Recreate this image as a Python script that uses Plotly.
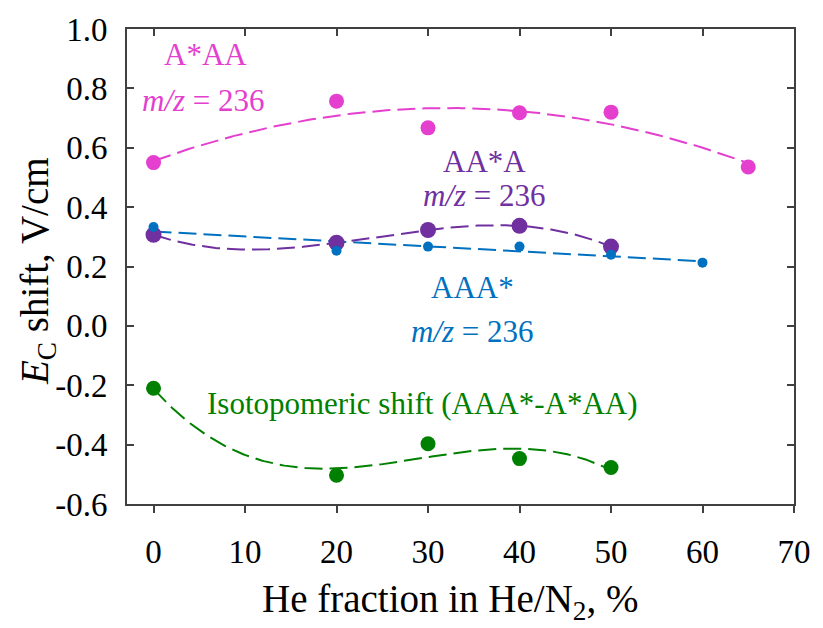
import numpy as np
import plotly.graph_objects as go

# He fraction (%) and E_C shifts (V/cm) for each isotopomer
x_a_star_aa = [0, 20, 30, 40, 50, 65]
y_a_star_aa = [0.550, 0.757, 0.667, 0.718, 0.720, 0.535]

x_aa_star_a = [0, 20, 30, 40, 50]
y_aa_star_a = [0.307, 0.280, 0.323, 0.337, 0.267]

x_aaa_star = [0, 20, 30, 40, 50, 60]
y_aaa_star = [0.333, 0.253, 0.267, 0.267, 0.240, 0.213]

x_iso = [0, 20, 30, 40, 50]
y_iso = [-0.210, -0.503, -0.397, -0.447, -0.477]

x_ticks = [0, 10, 20, 30, 40, 50, 60, 70]
y_ticks = [-0.6, -0.4, -0.2, 0.0, 0.2, 0.4, 0.6, 0.8, 1.0]
y_tick_text = ["-0.6", "-0.4", "-0.2", "0.0", "0.2", "0.4", "0.6", "0.8", "1.0"]

PINK = "#E43FCF"
PURPLE = "#7030A0"
BLUE = "#0070C0"
GREEN = "#008000"
FONT = "Liberation Serif"

series = [
    (x_a_star_aa, y_a_star_aa, PINK, 15, 2),
    (x_aa_star_a, y_aa_star_a, PURPLE, 16, 3),
    (x_aaa_star, y_aaa_star, BLUE, 10, 1),
    (x_iso, y_iso, GREEN, 15, 3),
]

fig = go.Figure()

# polynomial trendlines (dashed)
for xs, ys, color, size, deg in series:
    coef = np.polyfit(xs, ys, deg)
    xf = np.linspace(min(xs), max(xs), 200)
    fig.add_trace(go.Scatter(
        x=xf.tolist(), y=np.polyval(coef, xf).tolist(), mode="lines",
        line=dict(color=color, width=2, dash="18px,7px"),
        showlegend=False, hoverinfo="skip"))

# measured points
for xs, ys, color, size, deg in series:
    fig.add_trace(go.Scatter(
        x=xs, y=ys, mode="markers",
        marker=dict(color=color, size=size, line=dict(width=0)),
        showlegend=False))

# top axis carrying the inward-pointing ticks
fig.add_trace(go.Scatter(x=[None], y=[None], xaxis="x2", showlegend=False,
                         hoverinfo="skip"))

axis_line = "#404040"
fig.update_layout(
    width=823, height=628,
    margin=dict(l=127, r=20, t=25, b=124),
    paper_bgcolor="white", plot_bgcolor="white",
    font=dict(family=FONT, color="black"),
    xaxis=dict(
        range=[-2.9, 70], tickvals=x_ticks, ticks="outside", ticklen=7,
        tickwidth=1.5, tickcolor=axis_line, showline=True, linecolor=axis_line,
        linewidth=2, mirror=True, showgrid=False, zeroline=False,
        tickfont=dict(size=33, family=FONT, color="black"),
        ticklabelstandoff=10),
    xaxis2=dict(
        range=[-2.9, 70], tickvals=x_ticks, overlaying="x", side="top",
        ticks="inside", ticklen=7, tickwidth=1.5, tickcolor=axis_line,
        showticklabels=False, showline=False, showgrid=False, zeroline=False),
    yaxis=dict(
        range=[-0.6, 1.0], tickvals=y_ticks, ticktext=y_tick_text,
        ticks="inside", ticklen=7, tickwidth=1.5, tickcolor=axis_line,
        showline=True, linecolor=axis_line, linewidth=2, mirror="ticks",
        showgrid=False, zeroline=False,
        tickfont=dict(size=33, family=FONT, color="black"),
        ticklabelstandoff=11),
)

ann_font = 31
labels = [
    ("A*AA", 5.7, 0.915, PINK),
    ("<i>m/z</i> = 236", 5.5, 0.760, PINK),
    ("AA*A", 36.2, 0.553, PURPLE),
    ("<i>m/z</i> = 236", 36.2, 0.440, PURPLE),
    ("AAA*", 34.9, 0.130, BLUE),
    ("<i>m/z</i> = 236", 34.9, -0.020, BLUE),
    ("Isotopomeric shift (AAA*-A*AA)", 29.3, -0.262, GREEN),
]
for text, xa, ya, color in labels:
    fig.add_annotation(x=xa, y=ya, xref="x", yref="y", text=text,
                       showarrow=False,
                       font=dict(size=ann_font, color=color, family=FONT))

# axis titles
fig.add_annotation(x=-0.175, y=0.49, xref="paper", yref="paper",
                   text="<i>E</i><sub>C</sub> shift, V/cm", textangle=-90,
                   showarrow=False,
                   font=dict(size=39, family=FONT, color="black"))
fig.add_annotation(x=0.485, y=-0.205, xref="paper", yref="paper",
                   text="He fraction in He/N<sub>2</sub>, %", yanchor="middle",
                   showarrow=False,
                   font=dict(size=39, family=FONT, color="black"))

fig.write_html("out.html")
